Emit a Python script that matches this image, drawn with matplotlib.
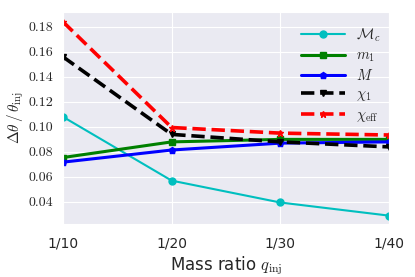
import matplotlib
matplotlib.use("Agg")
import matplotlib.pyplot as plt
import seaborn as sns

## mass ratio positions and labels
q_pos = [10, 20, 30, 40]
q_labels = ["1/10", "1/20", "1/30", "1/40"]

## relative errors for each parameter
err_Mc = [0.108, 0.057, 0.0395, 0.029]
err_m1 = [0.0755, 0.088, 0.090, 0.090]
err_M = [0.0718, 0.0815, 0.087, 0.088]
err_chi1 = [0.156, 0.094, 0.088, 0.084]
err_chieff = [0.184, 0.0995, 0.095, 0.0935]

yticks = [0.04, 0.06, 0.08, 0.10, 0.12, 0.14, 0.16, 0.18]

sns.set_style("darkgrid")
plt.rcParams['mathtext.fontset'] = 'cm'

fig, ax = plt.subplots(figsize=(4.15, 2.77), dpi=100)
ax.plot(q_pos, err_Mc, marker="o", color="c", linestyle="-", lw=1.5, ms=5, label=r"$\mathcal{M}_c$")
ax.plot(q_pos, err_m1, marker="s", color="g", linestyle="-", lw=2.2, ms=5, label=r"$m_1$")
ax.plot(q_pos, err_M, marker="p", color="b", linestyle="-", lw=2.2, ms=5, label=r"$M$")
ax.plot(q_pos, err_chi1, marker="v", color="k", linestyle="--", lw=2.6, ms=5, label=r"$\chi_1$")
ax.plot(q_pos, err_chieff, marker="*", color="r", linestyle="--", lw=2.6, ms=5, label=r"$\chi_{\rm eff}$")

ax.set_xlim(10, 40)
ax.set_ylim(0.022, 0.192)
ax.set_xticks(q_pos)
ax.set_xticklabels(q_labels, fontsize=10)
ax.set_yticks(yticks)
ax.set_yticklabels([f"{v:.2f}" for v in yticks], fontsize=10, fontfamily="cmr10")
ax.set_xlabel(r"Mass ratio $q_{\rm inj}$", fontsize=12, labelpad=3)
ax.set_ylabel(r"$\Delta\theta\,/\,\theta_{\rm inj}$", fontsize=11, labelpad=2)
ax.tick_params(axis="x", pad=5)
ax.legend(loc="upper right", bbox_to_anchor=(1.02, 1.0), fontsize=10.5, frameon=False,
          handlelength=3.0, labelspacing=0.25, borderaxespad=0.6)

fig.subplots_adjust(left=0.152, right=0.937, top=0.957, bottom=0.19)
plt.savefig("out.png", dpi=100)
